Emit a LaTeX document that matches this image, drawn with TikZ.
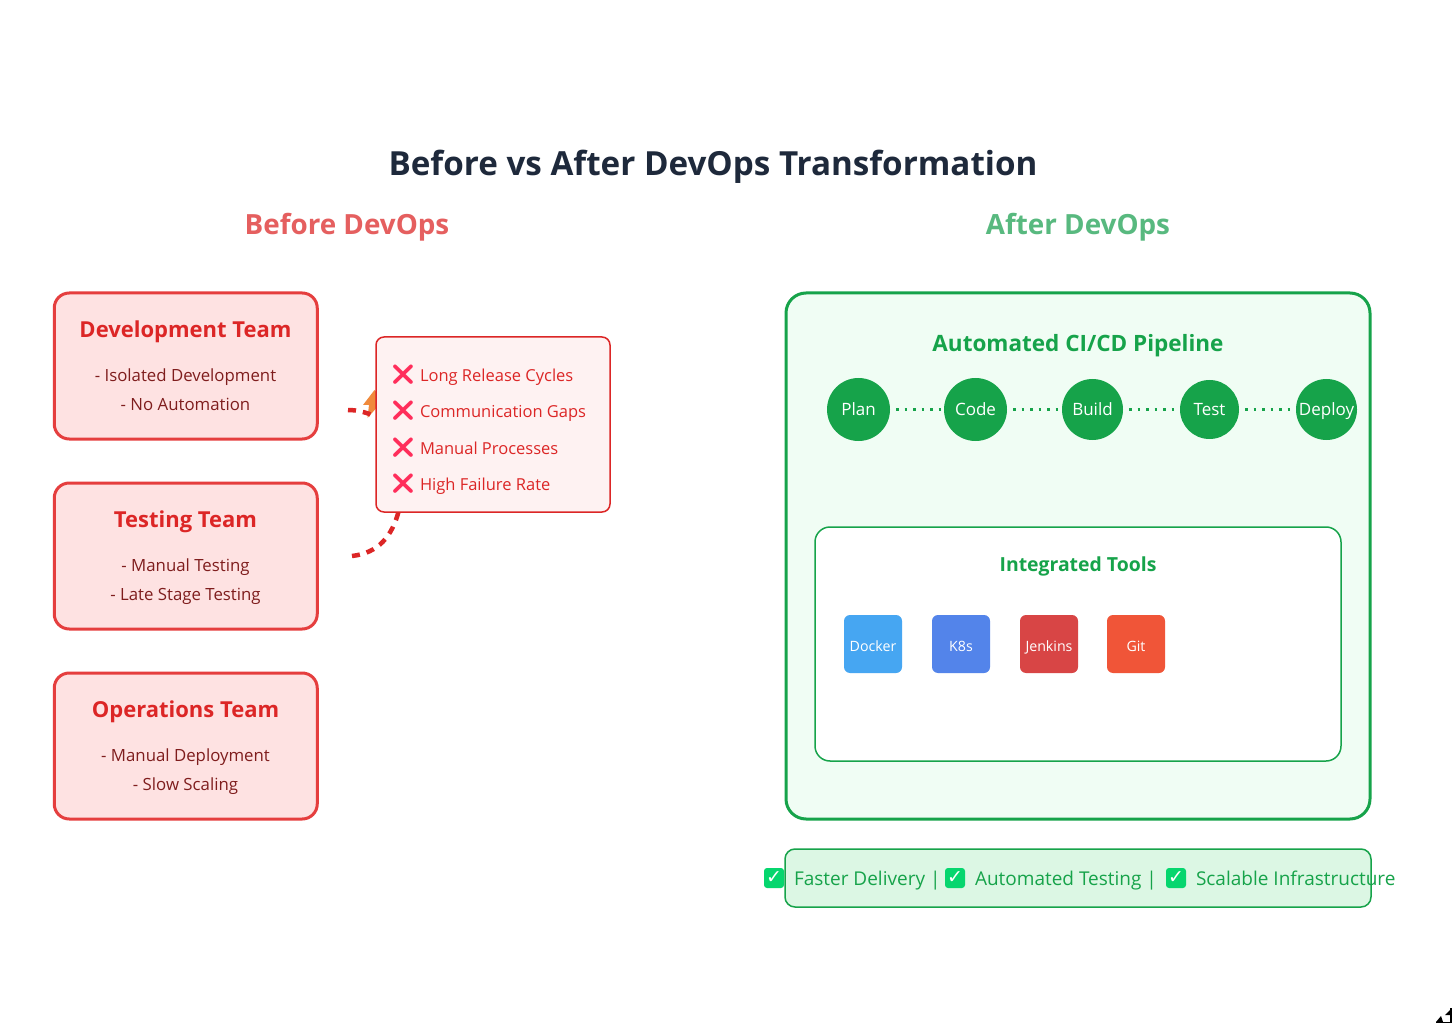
\documentclass[tikz,border=0pt]{standalone}
\usepackage{fontspec}
\setmainfont{Open Sans}
\newfontfamily\emofont{Noto Emoji}
\newfontfamily\djfont{DejaVu Sans}
\usetikzlibrary{arrows.meta}
\definecolor{titlec}{HTML}{1E293B}
\definecolor{beforec}{HTML}{E55F5F}
\definecolor{afterc}{HTML}{58B97F}
\definecolor{redm}{HTML}{DC2626}
\definecolor{redl}{HTML}{E53E3E}
\definecolor{redd}{HTML}{7F1D1D}
\definecolor{redf}{HTML}{FEE2E2}
\definecolor{redp}{HTML}{FEF2F2}
\definecolor{xc}{HTML}{FF2E5B}
\definecolor{grn}{HTML}{16A34A}
\definecolor{grnp}{HTML}{F0FDF4}
\definecolor{grnf}{HTML}{DCF7E4}
\definecolor{chk}{HTML}{06D66E}
\definecolor{bolt}{HTML}{F08A3C}
\definecolor{dockerc}{HTML}{46A6F2}
\definecolor{k8sc}{HTML}{5384EA}
\definecolor{jenkc}{HTML}{D84545}
\definecolor{gitc}{HTML}{F05538}
\tikzset{
 every node/.style={inner sep=0pt,outer sep=0pt},
 teambox/.style={draw=redl,fill=redf,line width=3pt,rounded corners=15pt,minimum width=263pt,minimum height=146pt},
 teamhead/.style={anchor=base,font=\fontsize{22}{22}\selectfont\bfseries,text=redm},
 teamline/.style={anchor=base,font=\fontsize{16.8}{20}\selectfont,text=redd},
 failline/.style={anchor=base west,font=\fontsize{16.5}{20}\selectfont,text=redm},
 xmark/.style={anchor=center,font=\emofont\fontsize{20}{20}\selectfont,text=xc},
 stage/.style={circle,fill=grn,text=white,text height=11pt,text depth=0pt,font=\fontsize{17}{20}\selectfont},
 pipe/.style={draw=grn,line width=2.5pt,dash pattern=on 2.5pt off 6pt,dash phase=2.5pt},
 toolbox/.style={rounded corners=6pt,minimum size=58pt,text=white,text height=14pt,text depth=0pt,font=\fontsize{14.2}{16}\selectfont},
 greenhead/.style={anchor=base,font=\bfseries,text=grn},
 benefit/.style={anchor=base west,font=\fontsize{19}{22}\selectfont,text=grn},
 chkbox/.style={fill=chk,rounded corners=3pt,minimum size=20pt,text=white,font=\djfont\bfseries\fontsize{19}{19}\selectfont},
 flow/.style={draw=redm,line width=4.5pt,dash pattern=on 8pt off 7pt},
}
\begin{document}
\begin{tikzpicture}[x=1pt,y=-1pt]
\useasboundingbox[fill=white] (0,0) rectangle (1452,1024);
\node[anchor=base,font=\fontsize{33.2}{35}\selectfont\bfseries,text=titlec] (title) at (713,176) {Before vs After DevOps Transformation};
\node[anchor=base,font=\fontsize{27.8}{30}\selectfont\bfseries,text=beforec] (before) at (347,235) {Before DevOps};
\node[anchor=base,font=\fontsize{27.8}{30}\selectfont\bfseries,text=afterc] (after) at (1078,235) {After DevOps};
% team boxes
\node[teambox] (dev) at (185.75,366) {};
\node[teambox] (test) at (185.75,556) {};
\node[teambox] (ops) at (185.75,746) {};
\node[teamhead] (devh) at (185.5,337.5) {Development Team};
\node[teamline] (dev1) at (185.5,381.5) {- Isolated Development};
\node[teamline] (dev2) at (185.5,410) {- No Automation};
\node[teamhead] (testh) at (185.5,527) {Testing Team};
\node[teamline] (test1) at (185.5,571) {- Manual Testing};
\node[teamline] (test2) at (185.5,600) {- Late Stage Testing};
\node[teamhead] (opsh) at (185.5,717) {Operations Team};
\node[teamline] (ops1) at (185.5,761) {- Manual Deployment};
\node[teamline] (ops2) at (185.5,790) {- Slow Scaling};
% connectors and bolt go under the failure box
\coordinate (fa) at (348,410);
\coordinate (fb) at (380,419);
\coordinate (ga) at (352,556);
\coordinate (gb) at (399,510);
\fill[bolt] (374.5,390) -- (363,405) -- (369,405) -- (367.5,418) -- (379,405) -- (379,395) -- cycle;
\draw[flow] (fa) .. controls (358,410) and (370,413) .. (fb);
\draw[flow] (ga) .. controls (378,553) and (392,537) .. (gb);
% failure box
\node[draw=redm,fill=redp,line width=1.5pt,rounded corners=8pt,minimum width=234pt,minimum height=175pt] (fail) at (493,424.5) {};
\node[xmark] (x1) at (403,375) {❌};
\node[xmark] (x2) at (403,411) {❌};
\node[xmark] (x3) at (403,448) {❌};
\node[xmark] (x4) at (403,484) {❌};
\node[failline] (f1) at (420,381.5) {Long Release Cycles};
\node[failline] (f2) at (420,417.5) {Communication Gaps};
\node[failline] (f3) at (420,454) {Manual Processes};
\node[failline] (f4) at (420,490) {High Failure Rate};
% after panel
\node[draw=grn,fill=grnp,line width=3pt,rounded corners=20pt,minimum width=584pt,minimum height=526pt] (panel) at (1078,556) {};
\node[greenhead,font=\fontsize{22.5}{24}\selectfont\bfseries] (cicd) at (1078,351.5) {Automated CI/CD Pipeline};
\node[stage,minimum size=63pt] (plan) at (858.5,409.5) {Plan};
\node[stage,minimum size=63pt] (code) at (975.5,409.5) {Code};
\node[stage,minimum size=61pt] (build) at (1092.5,409.5) {Build};
\node[stage,minimum size=59pt] (testst) at (1209.5,409.5) {Test};
\node[stage,minimum size=61pt] (deploy) at (1326.5,409.5) {Deploy};
\draw[pipe] (plan) -- (code);
\draw[pipe] (code) -- (build);
\draw[pipe] (build) -- (testst);
\draw[pipe] (testst) -- (deploy);
% tools
\node[draw=grn,fill=white,line width=1.5pt,rounded corners=15pt,minimum width=526pt,minimum height=234pt] (tools) at (1078,644) {};
\node[greenhead,font=\fontsize{19.4}{22}\selectfont\bfseries] (toolsh) at (1078,571) {Integrated Tools};
\node[toolbox,fill=dockerc] (docker) at (873,644) {Docker};
\node[toolbox,fill=k8sc] (k8s) at (961,644) {K8s};
\node[toolbox,fill=jenkc] (jenkins) at (1049,644) {Jenkins};
\node[toolbox,fill=gitc] (git) at (1136,644) {Git};
% benefits
\node[draw=grn,fill=grnf,line width=1.5pt,rounded corners=10pt,minimum width=586pt,minimum height=58pt] (bar) at (1078,878) {};
\node[chkbox] (c1) at (774,878) {✓};
\node[benefit] (b1) at (794,885) {Faster Delivery |};
\node[chkbox] (c2) at (955,878) {✓};
\node[benefit] (b2) at (975,885) {Automated Testing |};
\node[chkbox] (c3) at (1176,878) {✓};
\node[benefit] (b3) at (1196,885) {Scalable Infrastructure};
% resize grip
\coordinate (g1) at (1436,1022.5);
\coordinate (g2) at (1451,1022.5);
\coordinate (g3) at (1451,1008);
\draw[black,line width=1.5pt] (g1) -- (g2) -- (g3);
\fill[black] (1436,1022) -- (1441,1016) -- (1443,1022) -- cycle;
\fill[black] (1445,1015) -- (1451,1009) -- (1451,1015) -- cycle;
\end{tikzpicture}
\end{document}
